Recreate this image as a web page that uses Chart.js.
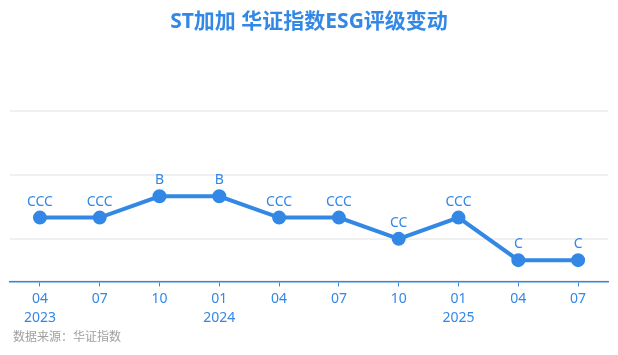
<!DOCTYPE html>
<html>
<head>
<meta charset="utf-8">
<script src="https://cdn.jsdelivr.net/npm/chart.js@4"></script>
<style>
  html, body { margin: 0; padding: 0; background: #fff; }
  #wrap { width: 618px; height: 355px; }
</style>
</head>
<body>
<div id="wrap"><canvas id="c"></canvas></div>
<script>
// 评级序列：季度 → 华证 ESG 等级
const LABELS = [["04", "2023"], "07", "10", ["01", "2024"], "04", "07", "10", ["01", "2025"], "04", "07"];
const RATINGS = ["CCC", "CCC", "B", "B", "CCC", "CCC", "CC", "CCC", "C", "C"];
const SCALE = ["C", "CC", "CCC", "B", "BB", "BBB", "A", "AA", "AAA"];   // 1..9
const GRID_TICKS = [0, 2, 5, 8];

const BLUE = "#3388e6";
const FONT = "'Noto Sans', 'Noto Sans CJK SC', sans-serif";
const values = RATINGS.map((r) => SCALE.indexOf(r) + 1);

// 点上方的等级文字
const ratingLabels = {
  id: "ratingLabels",
  afterDatasetsDraw(chart) {
    const ctx = chart.ctx;
    const meta = chart.getDatasetMeta(0);
    ctx.save();
    ctx.font = "14px " + FONT;
    ctx.fillStyle = BLUE;
    ctx.textAlign = "center";
    ctx.textBaseline = "middle";
    meta.data.forEach((pt, i) => ctx.fillText(RATINGS[i], pt.x, pt.y - 16));
    ctx.restore();
  },
};

new Chart(document.getElementById("c"), {
  type: "line",
  data: {
    labels: LABELS,
    datasets: [{
      data: values, borderColor: BLUE, backgroundColor: BLUE,
      borderWidth: 4, pointRadius: 5, pointHoverRadius: 5, tension: 0,
    }],
  },
  options: {
    responsive: true, maintainAspectRatio: false, animation: false,
    layout: { padding: { left: 10, right: 10, top: 0, bottom: 6 } },
    scales: {
      x: {
        offset: true,
        border: { color: BLUE, width: 1.5 },
        grid: { drawOnChartArea: false, color: BLUE, tickLength: 5, offset: false },
        ticks: { color: BLUE, font: { family: FONT, size: 14, lineHeight: 1.3 }, padding: 4, autoSkip: false, maxRotation: 0 },
      },
      y: {
        min: 0, max: 8,
        afterBuildTicks: (axis) => { axis.ticks = GRID_TICKS.map((v) => ({ value: v })); },
        border: { display: false },
        grid: { color: "#f0f0f0", lineWidth: 2, drawTicks: false },
        ticks: { display: false },
      },
    },
    plugins: {
      legend: { display: false },
      tooltip: { enabled: false },
      title: {
        display: true, text: "ST加加 华证指数ESG评级变动", color: BLUE,
        font: { family: FONT, size: 21, weight: "bold" },
        padding: { top: 9, bottom: 77 },
      },
      subtitle: {
        display: true, position: "bottom", align: "start",
        text: " 数据来源：华证指数", color: "#a0a0a0",
        font: { family: FONT, size: 12, lineHeight: 1.1 },
        padding: { top: 0, bottom: 5 },
      },
    },
  },
  plugins: [ratingLabels],
});
</script>
</body>
</html>
